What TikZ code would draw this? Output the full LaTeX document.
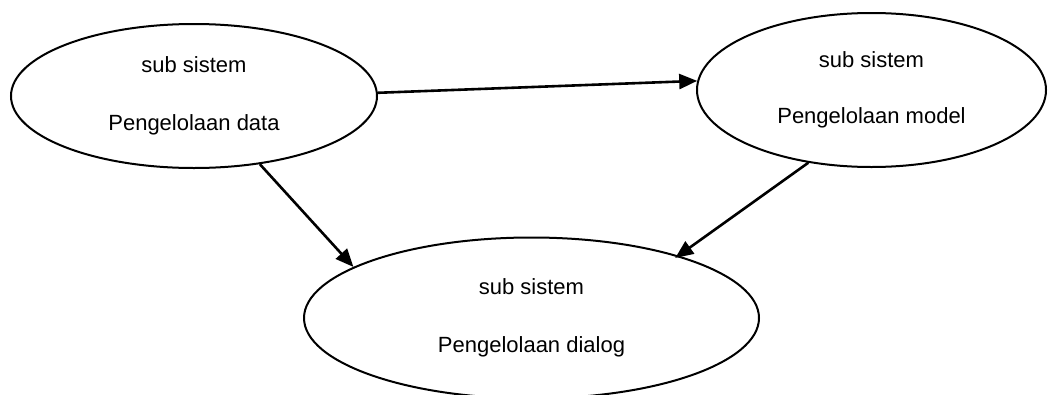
\documentclass[tikz,border=0pt]{standalone}
\usepackage{fontspec}
\setmainfont{Liberation Sans}
\usetikzlibrary{shapes.geometric,arrows.meta}
\begin{document}
\begin{tikzpicture}[x=1pt,y=-1pt,
  sub/.style={draw=black,line width=2pt,ellipse,inner sep=0pt,align=center,
    font=\fontsize{22}{58}\selectfont},
  conn/.style={line width=2.6pt,-{Triangle[length=18pt,width=15pt]}}]
\useasboundingbox (0,0) rectangle (1048,394);
\node[sub,minimum width=366pt,minimum height=144pt] (data) at (194,96) {sub sistem\\Pengelolaan data};
\node[sub,minimum width=349pt,minimum height=154pt] (model) at (871.5,90) {sub sistem\\[-2pt]Pengelolaan model};
\node[sub,minimum width=455pt,minimum height=161pt] (dialog) at (531.5,318) {sub sistem\\Pengelolaan dialog};
\draw[conn] (data.1.6) -- (model.177.7);
\draw[conn] (data.-46.6) -- (dialog.164.8);
\draw[conn,shorten >=-4pt] (model.-131.4) -- (dialog.23.2);
\end{tikzpicture}
\end{document}
